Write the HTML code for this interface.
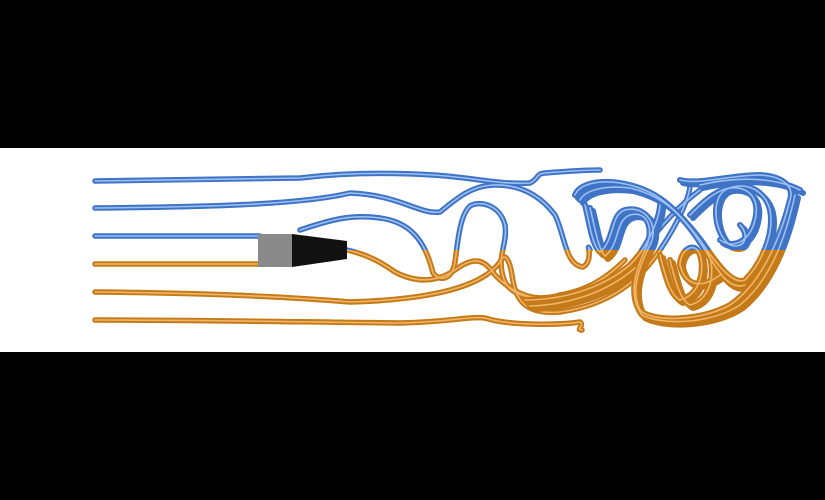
<!DOCTYPE html>
<html><head><meta charset="utf-8"><style>
html,body{margin:0;padding:0;background:#000;width:825px;height:500px;overflow:hidden}
svg{display:block}
</style></head><body>
<svg width="825" height="500" viewBox="0 0 825 500">
<defs>
<clipPath id="top"><rect x="0" y="0" width="825" height="250"/></clipPath>
<clipPath id="bot"><rect x="0" y="250" width="825" height="250"/></clipPath>
</defs>
<rect x="0" y="0" width="825" height="148" fill="#000"/>
<rect x="0" y="148" width="825" height="204" fill="#fff"/>
<rect x="0" y="352" width="825" height="148" fill="#000"/>
<g id="lines0" fill="none" stroke-linecap="round" stroke-linejoin="round">
<path d="M95,181 L300,178 C350,172 400,173 433,175 C470,177 500,185 530,183 C540,178 535,174 545,173 C570,171 590,170 600,170"/>
<path d="M95,208 C200,207 300,205 350,193 C400,195 420,215 440,212 C455,200 470,186 493,185 C520,184 540,195 555,215 C565,235 565,265 583,267 C595,260 585,240 590,250"/>
<path d="M95,236 L260,236 M300,230 C330,220 350,214 380,218 C410,222 425,240 433,273 C440,282 452,280 455,262 C458,240 460,215 470,206 C480,200 500,205 505,225 C508,245 495,258 505,282 C515,300 545,300 560,295 C590,290 610,275 625,260"/>
<path d="M95,264 L258,264 M347,250 C370,255 385,265 395,272 C420,285 440,280 455,270 C475,255 485,260 495,275 C510,290 525,300 560,300 C600,300 620,285 640,255 C660,225 680,205 700,190"/>
<path d="M95,292 C200,293 280,296 350,302 C420,300 480,290 500,262 C505,250 510,262 512,275 C515,300 525,315 560,312 C610,305 640,280 660,250 C680,220 690,195 690,185"/>
<path d="M95,320 C200,320 300,322 400,323 C450,322 470,316 485,318 C510,326 560,325 580,322 C585,326 575,330 582,330"/>
</g>
<g id="lines1" fill="none" stroke-linecap="round" stroke-linejoin="round">
<path d="M575,195 C580,183 600,180 620,183 C650,188 670,200 700,240 C720,270 735,285 745,280 C760,265 775,235 770,210 C765,190 745,180 725,190 C710,200 715,235 730,245 C745,250 750,235 740,225"/>
<path d="M580,200 C585,190 605,185 630,188 C660,195 680,210 705,250 C720,275 730,290 745,285"/>
<path d="M585,205 C590,225 592,245 600,252 C615,240 610,215 625,210 C645,205 660,225 650,245 C640,265 630,290 640,310 C650,322 700,322 730,305 C760,285 780,240 790,200 C795,185 780,176 760,175 C730,175 700,185 680,180"/>
<path d="M590,208 C595,228 598,248 605,256 C620,245 615,220 630,215 C648,210 655,230 645,250 C635,272 628,296 642,315 C660,325 710,325 740,305 C770,280 785,240 795,195"/>
<path d="M660,255 C665,275 670,295 680,300 C700,295 705,270 700,255 C695,240 680,250 680,265 C685,285 700,290 720,275"/>
<path d="M670,260 C675,280 680,300 690,305 C712,300 716,270 708,252"/>
<path d="M700,185 C730,178 770,175 800,190"/>
<path d="M690,215 C700,205 715,190 730,188 C750,186 760,200 755,220 C750,240 735,250 720,240"/>
<path d="M525,300 C560,300 600,290 630,265 C650,245 660,215 660,205"/>
<path d="M530,306 C565,305 605,294 635,268"/>
</g>
<g clip-path="url(#top)">
<use href="#lines0" stroke="#3f73c6" stroke-width="5.5"/>
<use href="#lines0" stroke="#9cc0f4" stroke-width="1.6"/>
<use href="#lines1" stroke="#3f73c6" stroke-width="6"/>
<use href="#lines1" stroke="#3f73c6" stroke-width="6" transform="translate(3,3)"/>
<use href="#lines1" stroke="#9cc0f4" stroke-width="1.6"/>
</g>
<g clip-path="url(#bot)">
<use href="#lines0" stroke="#c47a18" stroke-width="5.5"/>
<use href="#lines0" stroke="#f2b466" stroke-width="1.6"/>
<use href="#lines1" stroke="#c47a18" stroke-width="6"/>
<use href="#lines1" stroke="#c47a18" stroke-width="6" transform="translate(3,3)"/>
<use href="#lines1" stroke="#f2b466" stroke-width="1.6"/>
</g>
<g>
<rect x="258" y="234" width="34" height="33" fill="#8a8a8a"/>
<polygon points="292,234 347,241 347,259 292,267" fill="#111"/>
</g>
</svg>
</body></html>
